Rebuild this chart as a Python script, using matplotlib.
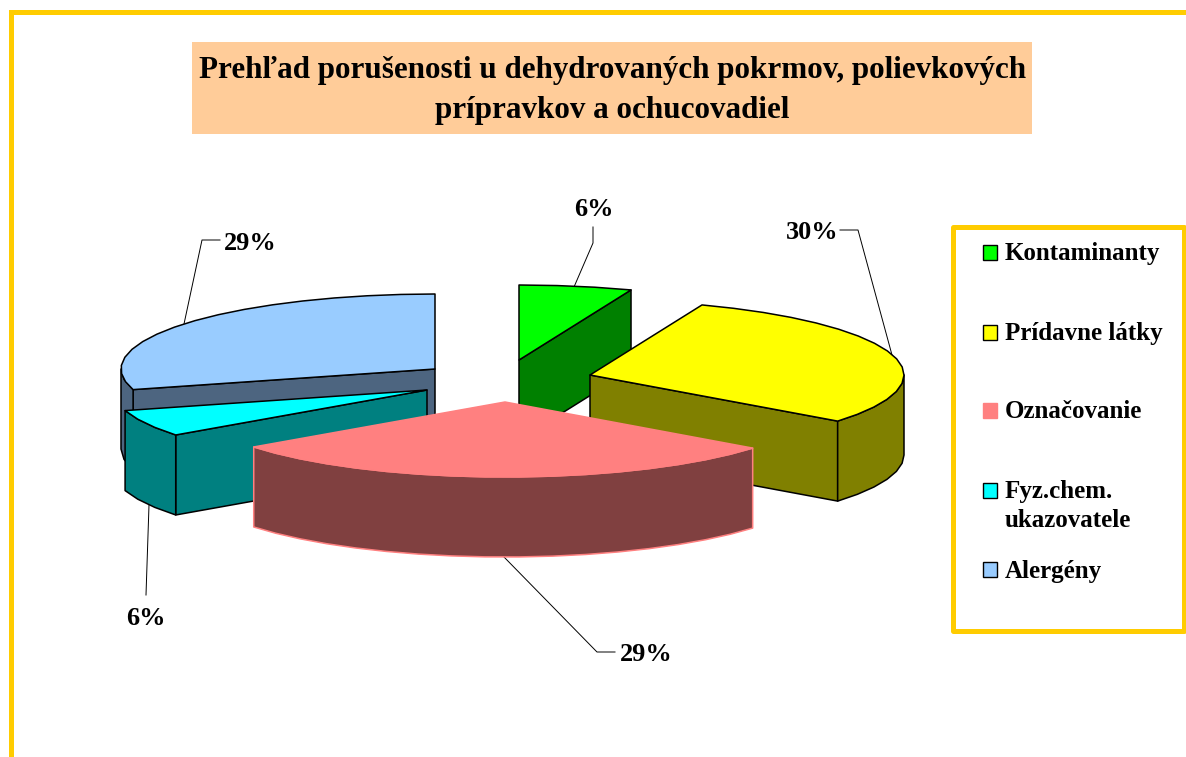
import numpy as np
import matplotlib
matplotlib.use("Agg")
import matplotlib.pyplot as plt
from matplotlib.patches import Polygon, Rectangle

# ---- data ----
title_lines = ["Prehľad porušenosti u dehydrovaných pokrmov, polievkových",
               "prípravkov a ochucovadiel"]
categories = ["Kontaminanty", "Prídavne látky", "Označovanie", "Fyz.chem.\nukazovatele", "Alergény"]
values = [5.8, 29.7, 29.2, 5.8, 29.4]

# ---- style ----
top_colors = ["#00FF00", "#FFFF00", "#FF8080", "#00FFFF", "#99CCFF"]
side_colors = ["#008000", "#808000", "#804040", "#008080", "#4D6580"]
edge_colors = ["black", "black", "#FF8080", "black", "black"]
apex_x = [519, 590, 505, 427, 435]
apex_y = [360, 375, 402, 390, 369]
RX, RY, DEPTH = 314, 75, 80
GOLD = "#FFCC00"
draw_order = [4, 3, 0, 1, 2]

label_xy = [(574, 216), (786, 239), (620, 661), (126, 625), (224, 250)]
leaders = [[(593, 227), (593, 243), (574, 287)],
           [(840, 230), (858, 230), (892, 355)],
           [(504, 557), (597, 652), (615, 652)],
           [(149, 505), (146, 595)],
           [(220, 240), (202, 240), (184, 324)]]
legend_box_y = [245, 325, 403, 483, 562]
legend_text_y = [260, 340, 418, 498, 578]

plt.rcParams["font.family"] = ["Liberation Serif", "DejaVu Serif"]
plt.rcParams["font.weight"] = "bold"

fig = plt.figure(figsize=(11.86, 7.57), dpi=100, facecolor="white")
ax = fig.add_axes([0, 0, 1, 1])
ax.set_xlim(0, 1186)
ax.set_ylim(757, 0)
ax.axis("off")

# outer frame
ax.plot([10.5, 10.5, 1186], [757, 11.5, 11.5], color=GOLD, lw=3.6, solid_joinstyle="miter", zorder=1)

# title
ax.add_patch(Rectangle((192, 42), 840, 92, fc="#FFCC99", ec="none", zorder=1))
ax.text(612.5, 78, title_lines[0], fontsize=22.4, ha="center", va="baseline", zorder=2, color="black")
ax.text(612, 118, title_lines[1], fontsize=22.4, ha="center", va="baseline", zorder=2, color="black")


def pt(cx, cy, th):
    return cx + RX * np.sin(th), cy - RY * np.cos(th)


def arc(cx, cy, a, b, step=np.radians(6)):
    n = max(2, int(abs(b - a) / step) + 1)
    th = np.linspace(a, b, n)
    return np.column_stack([cx + RX * np.sin(th), cy - RY * np.cos(th)])


fractions = np.array(values, dtype=float) / sum(values)
ends = np.cumsum(fractions) * 2 * np.pi
starts = ends - fractions * 2 * np.pi

z = 3
for i in draw_order:
    cx, cy, a, b = apex_x[i], apex_y[i], starts[i], ends[i]
    kw = dict(fc=side_colors[i], ec=edge_colors[i], lw=1.1, joinstyle="round")
    faces = []
    if np.sin(a) < -1e-6:
        faces.append(a)
    if np.sin(b) > 1e-6:
        faces.append(b)
    for th in faces:
        x, y = pt(cx, cy, th)
        poly = [(cx, cy), (x, y), (x, y + DEPTH), (cx, cy + DEPTH)]
        ax.add_patch(Polygon(poly, closed=True, zorder=z, **kw))
        z += 1
    lo, hi = max(a, np.pi / 2), min(b, 3 * np.pi / 2)
    if hi > lo:
        rim = arc(cx, cy, lo, hi)
        poly = np.vstack([rim, (rim + [0, DEPTH])[::-1]])
        ax.add_patch(Polygon(poly, closed=True, zorder=z, **kw))
        z += 1
    top = np.vstack([[cx, cy], arc(cx, cy, a, b)])
    ax.add_patch(Polygon(top, closed=True, fc=top_colors[i], ec=edge_colors[i], lw=1.1,
                         joinstyle="round", zorder=z))
    z += 1

# leader lines
for seg in leaders:
    xs, ys = zip(*seg)
    ax.plot(xs, ys, color="black", lw=0.7, zorder=2)

# percentage labels
for v, (x, y) in zip(values, label_xy):
    ax.text(x, y, f"{round(v)}%", fontsize=18.9, ha="left", va="baseline", zorder=40, color="black")

# legend
ax.add_patch(Rectangle((952.5, 226.5), 231, 404, fc="white", ec=GOLD, lw=3.6, zorder=30,
                       joinstyle="round"))
for i, cat in enumerate(categories):
    ec = "#FF8080" if i == 2 else "black"
    ax.add_patch(Rectangle((982.5, legend_box_y[i]), 14.5, 14.5, fc=top_colors[i], ec=ec, lw=1.0, zorder=31))
    parts = cat.split("\n")
    ax.text(1005, legend_text_y[i], parts[0], fontsize=18.0, ha="left", va="baseline", zorder=32, color="black")
    if len(parts) > 1:
        ax.text(1005, legend_text_y[i] + 29, parts[1], fontsize=18.0, ha="left", va="baseline", zorder=32, color="black")

fig.savefig("out.png", dpi=100, facecolor="white")
